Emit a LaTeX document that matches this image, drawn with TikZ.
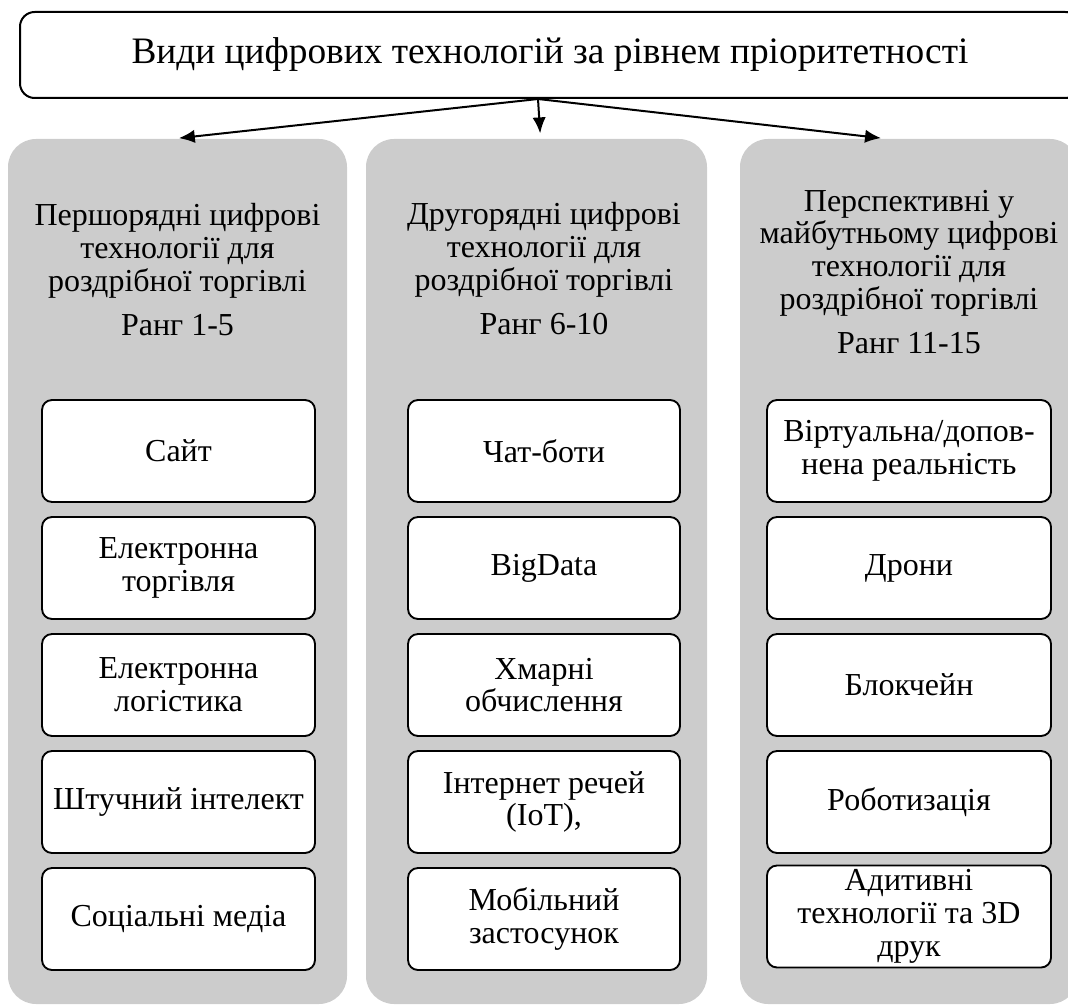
\documentclass[tikz,border=0pt]{standalone}
\usepackage{fontspec}
\setmainfont{Liberation Serif}
\usetikzlibrary{arrows.meta}

\begin{document}
\begin{tikzpicture}[x=0.75pt,y=-0.75pt,
   panel/.style={fill=black!20,rounded corners=21pt,minimum height=648.75pt,inner sep=0pt},
   techbox/.style={draw,line width=1.4pt,fill=white,rounded corners=7.5pt,minimum height=76.5pt,align=center,inner sep=2pt,font=\fontsize{24}{24.5}\selectfont},
   head/.style={align=center,font=\fontsize{24}{24.5}\selectfont},
   link/.style={-{Latex[length=12pt,width=10pt]},line width=1.5pt,shorten >=4pt}]
   \useasboundingbox (0,0) rectangle (1068,1005);
   \clip (0,0) rectangle (1068,1005);

   \node[draw,line width=1.5pt,rounded corners=11pt,minimum width=795pt,minimum height=64.5pt,font=\fontsize{28}{30}\selectfont] (title) at (550,55) {Види цифрових технологій за рівнем пріоритетності};

   \node[panel,minimum width=254.25pt] (panelA) at (177.5,571.5) {};
   \node[panel,minimum width=255.75pt] (panelB) at (536.5,571.5) {};
   \node[panel,minimum width=253.5pt] (panelC) at (909,571.5) {};

   \draw[link] ([xshift=-9pt]title.south) -- ([xshift=-3pt]panelA.north);
   \draw[link] ([xshift=-9pt]title.south) -- ([xshift=3pt]panelB.north);
   \draw[link] ([xshift=-9pt]title.south) -- ([xshift=-17pt]panelC.north);

   \node[head] (headA) at (177.5,270) {Першорядні цифрові\\технології для\\роздрібної торгівлі\\[9pt]Ранг 1-5};
   \node[head] (headB) at (544,269) {Другорядні цифрові\\технології для\\роздрібної торгівлі\\[9pt]Ранг 6-10};
   \node[head] (headC) at (909,272) {Перспективні у\\майбутньому цифрові\\технології для\\роздрібної торгівлі\\[9pt]Ранг 11-15};

   \node[techbox,minimum width=204.75pt] (siteA) at (178.5,451) {Сайт};
   \node[techbox,minimum width=204.75pt] (ecomA) at (178.5,568) {Електронна\\торгівля};
   \node[techbox,minimum width=204.75pt] (logA) at (178.5,685) {Електронна\\логістика};
   \node[techbox,minimum width=204.75pt] (aiA) at (178.5,802) {Штучний інтелект};
   \node[techbox,minimum width=204.75pt] (socA) at (178.5,919) {Соціальні медіа};

   \node[techbox,minimum width=204pt] (chatB) at (544,451) {Чат-боти};
   \node[techbox,minimum width=204pt] (dataB) at (544,568) {BigData};
   \node[techbox,minimum width=204pt] (cloudB) at (544,685) {Хмарні\\обчислення};
   \node[techbox,minimum width=204pt] (iotB) at (544,802) {Інтернет речей\\(IoT),};
   \node[techbox,minimum width=204pt] (mobB) at (544,919) {Мобільний\\застосунок};

   \node[techbox,minimum width=213pt] (vrC) at (909,451) {Віртуальна/допов-\\нена реальність};
   \node[techbox,minimum width=213pt] (droneC) at (909,568) {Дрони};
   \node[techbox,minimum width=213pt] (chainC) at (909,685) {Блокчейн};
   \node[techbox,minimum width=213pt] (robotC) at (909,802) {Роботизація};
   \node[techbox,minimum width=213pt] (addC) at (909,916.5) {Адитивні\\технології та 3D\\друк};
\end{tikzpicture}
\end{document}
